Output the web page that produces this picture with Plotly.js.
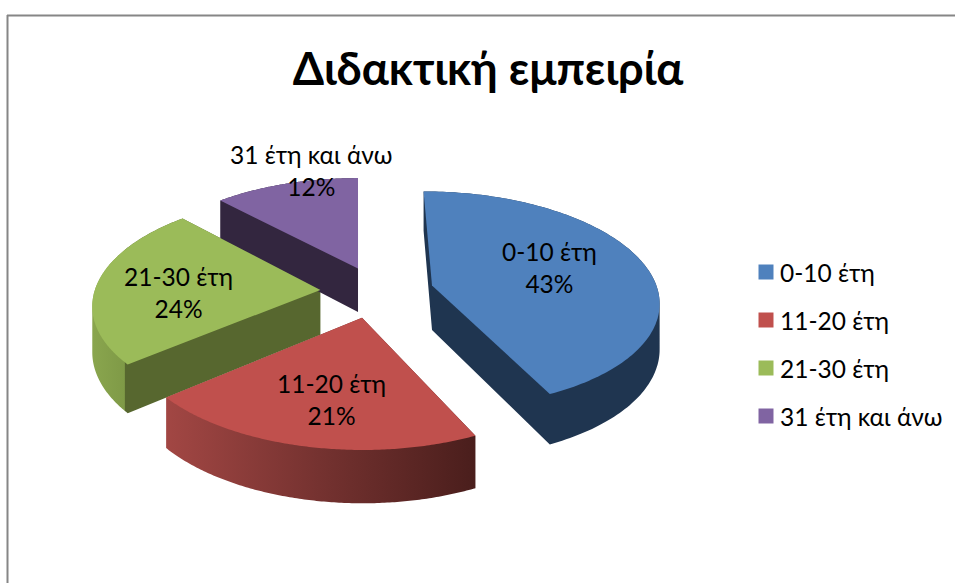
<!DOCTYPE html>
<html><head><meta charset="utf-8">
<script src="https://cdn.plot.ly/plotly-3.0.1.min.js"></script>
<style>html,body{margin:0;padding:0;background:#fff}#chart{width:955px;height:583px}</style>
</head><body><div id="chart"></div>
<script>
const chartTitle = 'Διδακτική εμπειρία';
const categories = ['0-10 έτη', '11-20 έτη', '21-30 έτη', '31 έτη και άνω'];
const values = [43, 21, 24, 12];
const explode = [0.334, 0.205, 0.167, 0.296];
const topColors = ['#4F81BD', '#C0504D', '#9BBB59', '#8064A2'];
const sideColors = ['#1F3550', '#7A302E', '#57672F', '#33263F'];
// extra in-plane shift of each exploded slice, in pie radii
const explodeNudge = [[0.004, -0.02], [0.062, 0], [0, -0.04], [0.109, 0.02]];
const W = 955, H = 583;
const FONT = 'Lato, "Noto Sans", sans-serif';
// where each data label sits, in pixels
const labelCentres = [[549, 267], [331, 399], [178, 292], [311, 170]];
const legendRows = [272, 320, 368, 416];
// perspective camera for the tilted pie
const cam = {cx: 358, cy: 295.4, sx: 227, sy: 108.7, k: 0.13, depth: 45};

function project(X, Y, Z) {
  const w = 1 - cam.k * Y;
  return [cam.cx + cam.sx * X / w, cam.cy + (cam.sy * Y + cam.depth * Z) / w];
}
function pieTrace(colors, legend) {
  return {
    type: 'pie', labels: categories, values: values, pull: explode, sort: false,
    direction: 'clockwise', rotation: 0, textinfo: 'none', hoverinfo: 'skip',
    showlegend: legend, marker: {colors: colors, line: {width: 0}}
  };
}
const annotations = categories.map((c, i) => ({
  xref: 'paper', yref: 'paper', x: labelCentres[i][0] / W, y: 1 - labelCentres[i][1] / H,
  xanchor: 'center', yanchor: 'middle', showarrow: false, align: 'center',
  text: c + '<br>' + values[i] + '%', font: {family: FONT, size: 24.5, color: '#000'}
}));
const layout = {
  width: W, height: H, margin: {l: 0, r: 0, t: 0, b: 0}, paper_bgcolor: '#fff',
  title: {text: '<b>' + chartTitle + '</b>', x: 488 / W, xanchor: 'center', y: 1 - 69 / H, yanchor: 'middle',
          font: {family: FONT, size: 45, color: '#000'}},
  legend: {x: 746 / W, xanchor: 'left', y: 0.5, yanchor: 'middle', font: {family: FONT, size: 24.5, color: '#000'},
           bgcolor: 'rgba(0,0,0,0)', borderwidth: 0},
  annotations: annotations,
  shapes: [
    {type: 'line', xref: 'paper', yref: 'paper', x0: 7 / W, x1: 1, y0: 1 - 15.5 / H, y1: 1 - 15.5 / H, line: {color: '#868686', width: 2}},
    {type: 'line', xref: 'paper', yref: 'paper', x0: 7.5 / W, x1: 7.5 / W, y0: 0, y1: 1 - 15 / H, line: {color: '#868686', width: 2}}
  ]
};
function samples(path, r) {
  const total = path.getTotalLength(), pts = [path.getPointAtLength(0)];
  const n = 140;
  for (let i = 0; i <= n; i++) pts.push(path.getPointAtLength(r + (total - 2 * r) * i / n));
  return pts;
}
const polyD = pts => 'M' + pts.map(p => p[0].toFixed(2) + ',' + p[1].toFixed(2)).join('L') + 'Z';
function orient(pts) {
  let a = 0;
  pts.forEach((p, i) => { const q = pts[(i + 1) % pts.length]; a += p[0] * q[1] - q[0] * p[1]; });
  return a < 0 ? pts.slice().reverse() : pts;
}
function addGradient(svg, id, stops) {
  const ns = 'http://www.w3.org/2000/svg';
  const g = document.createElementNS(ns, 'linearGradient');
  g.setAttribute('id', id); g.setAttribute('gradientUnits', 'userSpaceOnUse');
  g.setAttribute('x1', stops.x1); g.setAttribute('x2', stops.x2); g.setAttribute('y1', 0); g.setAttribute('y2', 0);
  stops.list.forEach(s => {
    const e = document.createElementNS(ns, 'stop');
    e.setAttribute('offset', s[0]); e.setAttribute('stop-color', s[1]); g.appendChild(e);
  });
  let defs = svg.querySelector('defs');
  if (!defs) { defs = document.createElementNS(ns, 'defs'); svg.insertBefore(defs, svg.firstChild); }
  defs.appendChild(g);
}
const gd = document.getElementById('chart');
Plotly.newPlot(gd, [pieTrace(sideColors, false), pieTrace(topColors, true)], layout, {displayModeBar: false}).then(() => {
  const svg = gd.querySelector('svg.main-svg');
  addGradient(svg, 'redSide', {x1: 163, x2: 475, list: [[0, '#A34744'], [0.5, '#753230'], [1, '#4A1E1C']]});
  addGradient(svg, 'greenSide', {x1: 91, x2: 321, list: [[0, '#8AA64E'], [0.145, '#7F9A47'], [0.15, '#57672F'], [1, '#57672F']]});
  const cd0 = gd.calcdata[0][0], r = cd0.r, cx0 = cd0.cx, cy0 = cd0.cy;
  const groups = gd.querySelectorAll('.pielayer .trace');
  const planar = i => {
    const surf = groups[1].querySelectorAll('.slice path.surface')[i];
    return samples(surf, r).map(p => [(p.x - cx0) / r + explodeNudge[i][0], (p.y - cy0) / r + explodeNudge[i][1]]);
  };
  const flat = categories.map((c, i) => planar(i));
  // top faces
  groups[1].querySelectorAll('.slice path.surface').forEach((p, i) => {
    p.setAttribute('d', polyD(flat[i].map(q => project(q[0], q[1], 0))));
  });
  // extruded sides
  groups[0].querySelectorAll('.slice path.surface').forEach((p, i) => {
    const pts = flat[i], n = pts.length;
    let d = '';
    for (let j = 0; j < n; j++) {
      const a = pts[j], b = pts[(j + 1) % n];
      d += polyD(orient([project(a[0], a[1], 0), project(b[0], b[1], 0), project(b[0], b[1], 1), project(a[0], a[1], 1)]));
    }
    d += polyD(orient(pts.map(q => project(q[0], q[1], 1))));
    p.setAttribute('d', d);
    if (i === 1) p.style.fill = 'url(#redSide)';
    if (i === 2) p.style.fill = 'url(#greenSide)';
  });
  // legend rows
  const leg = gd.querySelector('.legend');
  const sb = leg.querySelector('.scrollbox');
  if (sb) { sb.removeAttribute('clip-path'); sb.setAttribute('transform', 'translate(0,0)'); }
  leg.removeAttribute('clip-path');
  leg.setAttribute('transform', 'translate(746,0)');
  leg.querySelectorAll('.traces').forEach((t, i) => {
    t.setAttribute('transform', 'translate(0,' + legendRows[i] + ')');
    const m = t.querySelector('.legendpoints path');
    if (m) m.setAttribute('d', 'M7.5,7.5H-7.5V-7.5H7.5Z');
    const tx = t.querySelector('.legendtext');
    if (tx) tx.setAttribute('x', 34);
  });
});
</script>
</body></html>
